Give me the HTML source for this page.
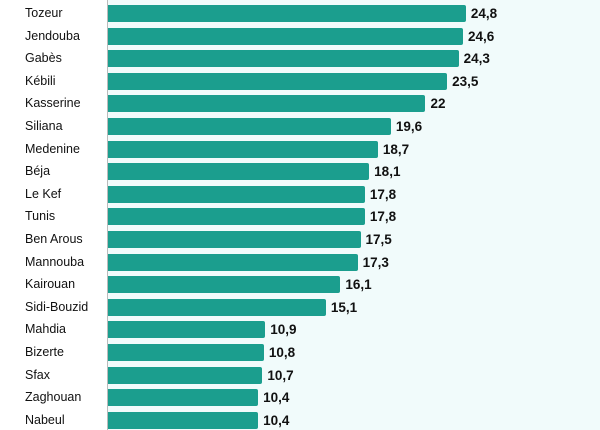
<!DOCTYPE html>
<html><head><style>
body{margin:0;width:600px;height:430px;background:#fff;overflow:hidden;position:relative;font-family:"Liberation Sans",sans-serif}
.bg{position:absolute;left:108px;top:0;width:492px;height:430px;background:#f1fbfb}
.ax{position:absolute;left:107px;top:0;width:1px;height:430px;background:#bbb}
.r{position:absolute;left:0;height:17px}
.l{position:absolute;left:25px;top:0;line-height:17px;font-size:12.5px;color:#111;white-space:nowrap}
.b{position:absolute;left:108px;top:0;height:17px;background:#1b9e8e;border-radius:0 2px 2px 0}
.v{position:absolute;top:0;line-height:17px;font-size:13.5px;font-weight:bold;color:#111}
</style></head><body>
<div class="bg"></div><div class="ax"></div>
<div id="c"></div>
<script>
var d=[["Tozeur",24.8,"24,8"],["Jendouba",24.6,"24,6"],["Gabès",24.3,"24,3"],["Kébili",23.5,"23,5"],["Kasserine",22,"22"],["Siliana",19.6,"19,6"],["Medenine",18.7,"18,7"],["Béja",18.1,"18,1"],["Le Kef",17.8,"17,8"],["Tunis",17.8,"17,8"],["Ben Arous",17.5,"17,5"],["Mannouba",17.3,"17,3"],["Kairouan",16.1,"16,1"],["Sidi-Bouzid",15.1,"15,1"],["Mahdia",10.9,"10,9"],["Bizerte",10.8,"10,8"],["Sfax",10.7,"10,7"],["Zaghouan",10.4,"10,4"],["Nabeul",10.4,"10,4"]];
var h="";d.forEach(function(x,i){var t=5+i*22.6,w=x[1]*14.43;
h+='<div class="r" style="top:'+t+'px"><div class="l">'+x[0]+'</div><div class="b" style="width:'+w+'px"></div><div class="v" style="left:'+(108+w+5)+'px">'+x[2]+'</div></div>';});
document.getElementById("c").innerHTML=h;
</script>
</body></html>
